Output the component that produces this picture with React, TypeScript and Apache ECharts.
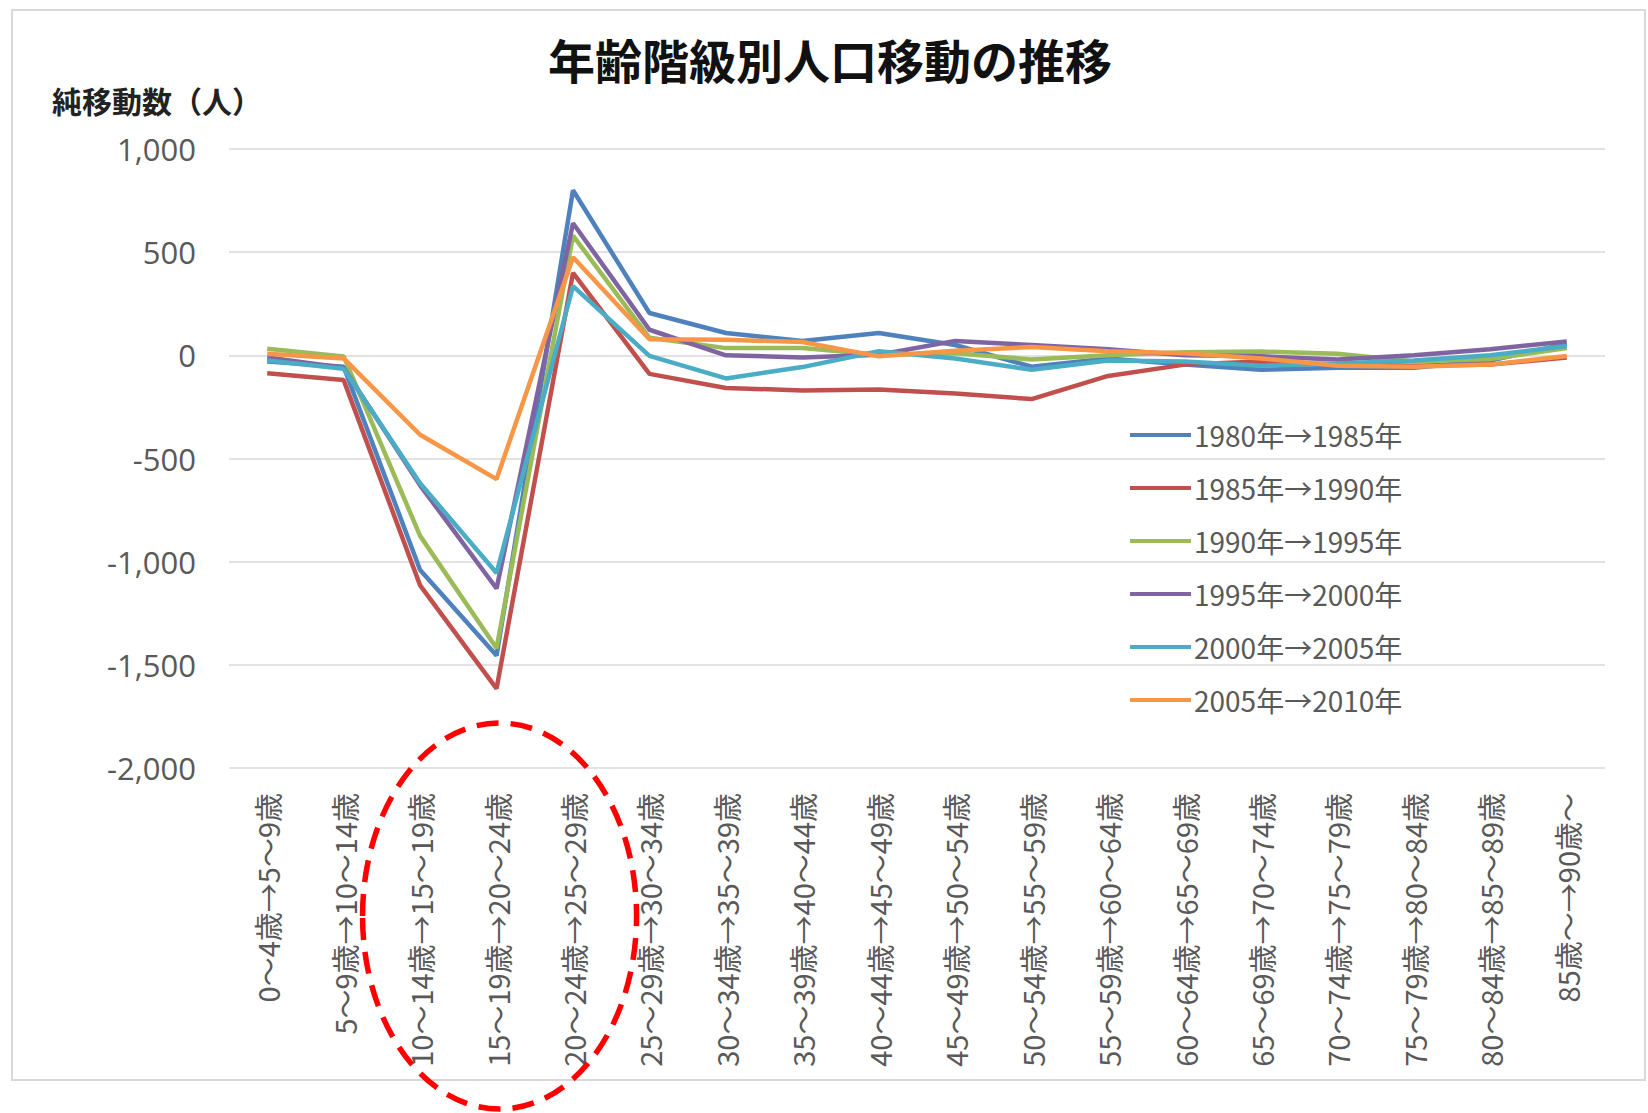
import React, { useEffect, useRef } from "react";
import * as echarts from "echarts";

const categories = [
  "0～4歳→5～9歳",
  "5～9歳→10～14歳",
  "10～14歳→15～19歳",
  "15～19歳→20～24歳",
  "20～24歳→25～29歳",
  "25～29歳→30～34歳",
  "30～34歳→35～39歳",
  "35～39歳→40～44歳",
  "40～44歳→45～49歳",
  "45～49歳→50～54歳",
  "50～54歳→55～59歳",
  "55～59歳→60～64歳",
  "60～64歳→65～69歳",
  "65～69歳→70～74歳",
  "70～74歳→75～79歳",
  "75～79歳→80～84歳",
  "80～84歳→85～89歳",
  "85歳～→90歳～",
];

const seriesNames = [
  "1980年→1985年",
  "1985年→1990年",
  "1990年→1995年",
  "1995年→2000年",
  "2000年→2005年",
  "2005年→2010年",
];

const s1980_1985 = [-30, -55, -1040, -1455, 800, 205, 108, 70, 108, 50, -55, -15, -45, -70, -60, -60, -25, 55];
const s1985_1990 = [-87, -120, -1115, -1615, 400, -90, -158, -170, -166, -185, -212, -100, -45, -30, -45, -50, -45, -10];
const s1990_1995 = [32, -5, -875, -1420, 580, 85, 35, 35, 3, 10, -20, 0, 15, 18, 8, -30, -18, 35];
const s1995_2000 = [-10, -60, -630, -1130, 640, 124, 0, -10, 3, 70, 50, 30, 0, -5, -20, 0, 30, 67];
const s2000_2005 = [-25, -65, -620, -1055, 335, -3, -112, -57, 20, -15, -70, -25, -30, -50, -40, -25, 0, 45];
const s2005_2010 = [8, -15, -385, -600, 475, 78, 75, 65, -5, 22, 40, 20, 10, -15, -50, -55, -45, -3];

const seriesValues = [s1980_1985, s1985_1990, s1990_1995, s1995_2000, s2000_2005, s2005_2010];
const colors = ["#4F81BD", "#C0504D", "#9BBB59", "#8064A2", "#4BACC6", "#F79646"];

const yTicks = { min: -2000, max: 1000, interval: 500 };

const FONT = '"Noto Sans CJK JP", "Noto Sans", sans-serif';

export default function App() {
  const ref = useRef<HTMLDivElement>(null);

  useEffect(() => {
    if (!ref.current) return;
    const chart = echarts.init(ref.current, null, { renderer: "svg" });
    const baseGraphic = [
      {
        type: "rect",
        shape: { x: 12, y: 10, width: 1633, height: 1070 },
        style: { fill: "none", stroke: "#d9d9d9", lineWidth: 2 },
        silent: true,
      },
      {
        type: "text",
        left: 52,
        top: 85,
        style: {
          text: "純移動数（人）",
          fontFamily: FONT,
          fontSize: 30,
          fontWeight: "bold",
          fill: "#222222",
        },
      },
    ];
    chart.setOption({
      animation: false,
      backgroundColor: "#ffffff",
      textStyle: { fontFamily: FONT },
      title: {
        text: "年齢階級別人口移動の推移",
        left: 830,
        top: 35,
        textAlign: "center",
        padding: 0,
        textStyle: { fontFamily: FONT, fontSize: 47, fontWeight: "bold", color: "#111111" },
      },
      grid: { left: 229, right: 43, top: 149, bottom: 345, containLabel: false },
      legend: {
        orient: "vertical",
        left: 1130,
        top: 420,
        icon: "rect",
        itemWidth: 61,
        itemHeight: 4,
        itemGap: 23,
        padding: 0,
        data: seriesNames,
        textStyle: { fontFamily: FONT, fontSize: 28, color: "#595959", lineHeight: 30, padding: [0, 0, 0, -2] },
      },
      xAxis: {
        type: "category",
        data: categories,
        boundaryGap: true,
        axisLine: { show: false, onZero: false },
        axisTick: { show: false },
        splitLine: { show: false },
        axisLabel: {
          rotate: 90,
          interval: 0,
          margin: 25,
          fontFamily: FONT,
          fontSize: 29,
          color: "#595959",
        },
      },
      yAxis: {
        type: "value",
        min: yTicks.min,
        max: yTicks.max,
        interval: yTicks.interval,
        axisLine: { show: false },
        axisTick: { show: false },
        splitLine: { lineStyle: { color: "#d9d9d9", width: 1.5 } },
        axisLabel: {
          margin: 33,
          fontFamily: '"Open Sans", "Noto Sans", sans-serif',
          fontSize: 31,
          color: "#595959",
          formatter: (v: number) => v.toLocaleString("en-US"),
        },
      },
      series: seriesValues.map((vals, i) => ({
        name: seriesNames[i],
        type: "line",
        data: vals,
        symbol: "none",
        showSymbol: false,
        color: colors[i],
        itemStyle: { color: colors[i] },
        lineStyle: { width: 4.5, color: colors[i] },
        z: 2 + i,
      })),
      graphic: baseGraphic,
    });

    const [cx] = chart.convertToPixel({ gridIndex: 0 }, [3, 0]) as number[];
    chart.setOption({
      graphic: [
        ...baseGraphic,
        {
          type: "ellipse",
          shape: { cx: cx + 3, cy: 916, rx: 137, ry: 193 },
          style: { fill: "none", stroke: "#FF0000", lineWidth: 5.5, lineDash: [22, 12] },
          z: 100,
          silent: true,
        },
      ],
    });

    return () => chart.dispose();
  }, []);

  return (
    <div
      ref={ref}
      style={{ position: "absolute", left: 0, top: 0, width: 1648, height: 1113 }}
    />
  );
}
